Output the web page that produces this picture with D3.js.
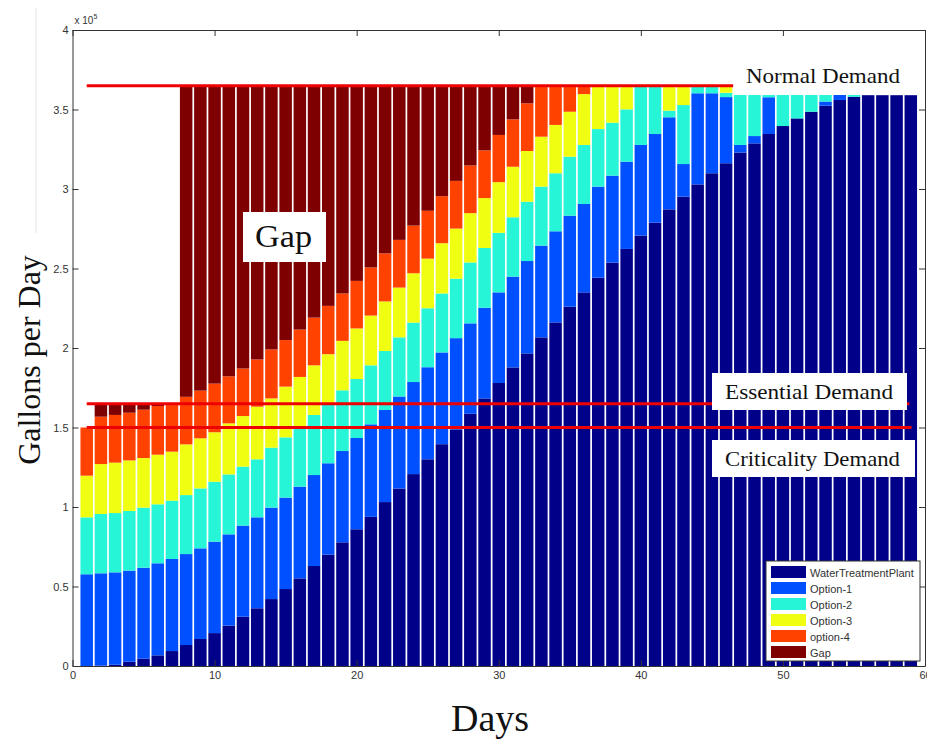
<!DOCTYPE html>
<html>
<head>
<meta charset="utf-8">
<script src="https://cdn.jsdelivr.net/npm/d3@7"></script>
<style>
  body { margin: 0; background: #fff; }
  svg { display: block; }
</style>
</head>
<body>
<div id="chart"></div>
<script>
// days on the x axis
const days = d3.range(1, 60);

// gallons per day delivered by each source
const waterTreatmentPlant = [0, 200, 800, 2700, 4600, 6700, 9400, 13200, 17000, 20700,
  25400, 31000, 36300, 42100, 48400, 55100, 62900, 70000, 77800, 86000,
  93800, 103100, 111600, 120700, 130000, 139500, 148800, 158600, 168300, 178000,
  187800, 196600, 206700, 216100, 226000, 235000, 244200, 253700, 262300, 270700,
  278800, 287200, 295200, 302900, 309900, 316200, 322900, 328700, 334600, 339600,
  344400, 348600, 352400, 356000, 358000, 359000, 359000, 359000, 359000];
const option1 = [57700, 58100, 58100, 57300, 57200, 57900, 57900, 57200, 57000, 57500,
  57400, 57300, 57200, 57500, 57500, 57700, 57200, 57500, 57400, 57400,
  58200, 57900, 57900, 57900, 57900, 57700, 57400, 56900, 57000, 57000,
  57100, 58100, 57700, 57300, 57200, 55600, 57300, 54700, 54900, 57000,
  55800, 57900, 20500, 57300, 50300, 41600, 4800, 4600, 23100, 0,
  0, 0, 2600, 3100, 0, 0, 0, 0, 0];
const option2 = [35800, 37300, 37300, 37500, 37800, 37100, 36700, 37100, 37700, 37700,
  37700, 37100, 36500, 37700, 37900, 37700, 37800, 36800, 38200, 37100,
  37100, 37100, 37200, 37400, 37100, 37100, 37400, 38300, 37600, 37400,
  37300, 37300, 37100, 36500, 37100, 37100, 36200, 33300, 32900, 36800,
  30000, 4200, 37100, 4300, 4300, 2700, 31400, 25800, 1400, 19500,
  14700, 10500, 4100, 0, 1100, 0, 0, 0, 0];
const option3 = [26200, 31400, 31700, 31800, 31200, 31200, 30800, 31900, 31500, 31100,
  32100, 31800, 33100, 31000, 31900, 31300, 31200, 31800, 31100, 31800,
  31300, 31200, 31300, 31000, 31200, 31600, 31500, 31000, 31400, 31900,
  31800, 31900, 31400, 30400, 28300, 32000, 26800, 22800, 14400, 0,
  0, 15200, 11700, 0, 0, 4000, 0, 0, 0, 0,
  0, 0, 0, 0, 0, 0, 0, 0, 0];
const option4 = [30300, 29800, 30000, 30000, 30400, 30600, 29700, 29900, 30000, 30600,
  29600, 29900, 29700, 30800, 29300, 29800, 30000, 30400, 29800, 29900,
  30300, 30200, 30000, 30000, 30100, 29600, 30000, 30000, 30000, 29700,
  29800, 30000, 31600, 24200, 15900, 4800, 0, 0, 0, 0,
  0, 0, 0, 0, 0, 0, 0, 0, 0, 0,
  0, 0, 0, 0, 0, 0, 0, 0, 0];
const gap = [0, 7700, 6600, 5200, 3300, 1000, 0, 195200, 191300, 186900,
  182300, 177400, 171700, 165400, 159500, 152900, 145400, 138000, 130200, 122300,
  113800, 105000, 96500, 87500, 78200, 69000, 59400, 49700, 40200, 30500,
  20700, 10600, 0, 0, 0, 0, 0, 0, 0, 0,
  0, 0, 0, 0, 0, 0, 0, 0, 0, 0,
  0, 0, 0, 0, 0, 0, 0, 0, 0];

const seriesNames = ["WaterTreatmentPlant", "Option-1", "Option-2", "Option-3", "option-4", "Gap"];
const seriesValues = [waterTreatmentPlant, option1, option2, option3, option4, gap];
const seriesColors = ["#000088", "#0050ff", "#26f5d8", "#f0ff12", "#ff4200", "#7f0000"];

// demand levels and the day range each red line spans
const demandNames = ["Normal Demand", "Essential Demand", "Criticality Demand"];
const demandValues = [365000, 165000, 150000];
const demandFrom = [1, 1, 1];
const demandTo = [46.5, 58.9, 59.05];

const xTicks = [0, 10, 20, 30, 40, 50, 60];
const yTicks = [0, 50000, 100000, 150000, 200000, 250000, 300000, 350000, 400000];

const width = 927, height = 741;
const svg = d3.select("#chart").append("svg")
  .attr("width", width)
  .attr("height", height);

const x = d3.scaleLinear().domain([0, 60]).range([72.5, 925]);
const y = d3.scaleLinear().domain([0, 400000]).range([666, 30]);

// table for the stack
const table = days.map((d, i) => {
  const row = { day: d };
  seriesNames.forEach((name, k) => { row[name] = seriesValues[k][i]; });
  return row;
});
const stacked = d3.stack().keys(seriesNames)(table);

const barHalf = 0.44;
svg.append("g")
  .selectAll("g")
  .data(stacked)
  .join("g")
  .attr("fill", (s, k) => seriesColors[k])
  .selectAll("rect")
  .data(s => s)
  .join("rect")
  .attr("x", d => x(d.data.day - barHalf))
  .attr("width", d => x(d.data.day + barHalf) - x(d.data.day - barHalf))
  .attr("y", d => y(d[1]))
  .attr("height", d => y(d[0]) - y(d[1]));

// axes box, MATLAB style with inward ticks on all sides
const fmt = d => d3.format("~g")(d / 100000);
const axisG = svg.append("g").attr("font-family", "Liberation Sans, Arial, sans-serif");

axisG.append("g")
  .attr("transform", `translate(0,${y(0)})`)
  .call(d3.axisBottom(x).tickValues(xTicks).tickSizeInner(-6).tickSizeOuter(0).tickPadding(5));
axisG.append("g")
  .attr("transform", `translate(0,${y(400000)})`)
  .call(d3.axisTop(x).tickValues(xTicks).tickSizeInner(-6).tickSizeOuter(0).tickFormat(""));
axisG.append("g")
  .attr("transform", `translate(${x(0)},0)`)
  .call(d3.axisLeft(y).tickValues(yTicks).tickSizeInner(-6).tickSizeOuter(0).tickPadding(4).tickFormat(fmt));
axisG.append("g")
  .attr("transform", `translate(${x(60)},0)`)
  .call(d3.axisRight(y).tickValues(yTicks).tickSizeInner(-6).tickSizeOuter(0).tickFormat(""));

axisG.selectAll(".domain").attr("stroke", "#333");
axisG.selectAll(".tick line").attr("stroke", "#333");
axisG.selectAll(".tick text").attr("font-size", 11).attr("fill", "#333");

axisG.append("text")
  .attr("x", x(0) + 2)
  .attr("y", y(400000) - 6)
  .attr("font-size", 10)
  .attr("fill", "#333")
  .text("x 10")
  .append("tspan")
  .attr("dy", -5)
  .attr("font-size", 7)
  .text("5");

// demand lines
svg.append("g")
  .selectAll("line")
  .data(demandValues)
  .join("line")
  .attr("x1", (v, i) => x(demandFrom[i]))
  .attr("x2", (v, i) => x(demandTo[i]))
  .attr("y1", v => y(v))
  .attr("y2", v => y(v))
  .attr("stroke", "#ee0000")
  .attr("stroke-width", 3);

// text boxes
const serif = "Liberation Serif, DejaVu Serif, serif";
function labelBox(bx, by, bw, bh, tx, ty, size, txt, tw) {
  svg.append("rect")
    .attr("x", bx).attr("y", by).attr("width", bw).attr("height", bh)
    .attr("fill", "#fff");
  const t = svg.append("text")
    .attr("x", tx).attr("y", ty)
    .attr("font-family", serif)
    .attr("font-size", size)
    .attr("fill", "#111")
    .text(txt);
  if (tw) t.attr("textLength", tw).attr("lengthAdjust", "spacingAndGlyphs");
}
labelBox(243, 212, 83, 50, 255, 247, 32, "Gap", 57);
labelBox(738, 60, 175, 30, 746, 83, 21, demandNames[0], 154);
labelBox(712, 373, 195, 37, 725, 399, 21, demandNames[1], 168);
labelBox(712, 440, 203, 37, 725, 466, 21, demandNames[2], 175);

// legend
const legend = svg.append("g").attr("transform", "translate(766,561)");
legend.append("rect")
  .attr("width", 154).attr("height", 100)
  .attr("fill", "#fff").attr("stroke", "#333");
seriesNames.forEach((name, k) => {
  const row = legend.append("g").attr("transform", `translate(0,${5 + k * 16})`);
  row.append("rect")
    .attr("x", 5).attr("y", 0).attr("width", 35).attr("height", 12)
    .attr("fill", seriesColors[k]);
  row.append("text")
    .attr("x", 44).attr("y", 10.5)
    .attr("font-family", "Liberation Sans, Arial, sans-serif")
    .attr("font-size", 11)
    .attr("fill", "#333")
    .text(name);
});

// axis titles
svg.append("text")
  .attr("x", 490).attr("y", 731)
  .attr("text-anchor", "middle")
  .attr("font-family", serif)
  .attr("font-size", 38)
  .attr("fill", "#111")
  .text("Days");

svg.append("text")
  .attr("transform", "translate(40,360) rotate(-90)")
  .attr("text-anchor", "middle")
  .attr("font-family", serif)
  .attr("font-size", 32)
  .attr("fill", "#111")
  .text("Gallons per Day");

// faint frame left over from the pasted label
svg.append("path")
  .attr("d", "M36,8V233")
  .attr("stroke", "#e4e4e4")
  .attr("fill", "none");
</script>
</body>
</html>
